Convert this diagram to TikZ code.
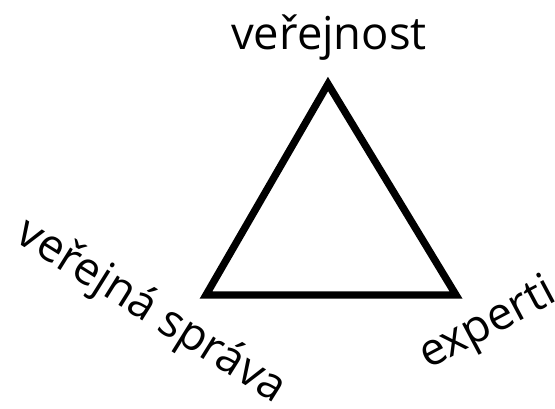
\documentclass[tikz,border=0pt]{standalone}
\usepackage{fontspec}
\setmainfont{Open Sans}
\usepackage{tikz}

\begin{document}
\begin{tikzpicture}[x=0.75pt,y=-0.75pt,font=\fontsize{34}{34}\selectfont,
  side/.style={line width=5.5pt,line join=miter}]
\useasboundingbox (0,0) rectangle (555,409);
\clip (0,0) rectangle (555,409);
\coordinate (top) at (328,84);
\coordinate (left) at (206,295);
\coordinate (right) at (456,295);
\draw[side] (top)--(right)--(left)--cycle;
\node[anchor=base] (pub) at (329,50) {veřejnost};
\node[anchor=base west,rotate=-32] (adm) at (10,238) {veřejná správa};
\node[anchor=base west,rotate=28] (exp) at (424,372) {experti};
\end{tikzpicture}
\end{document}
